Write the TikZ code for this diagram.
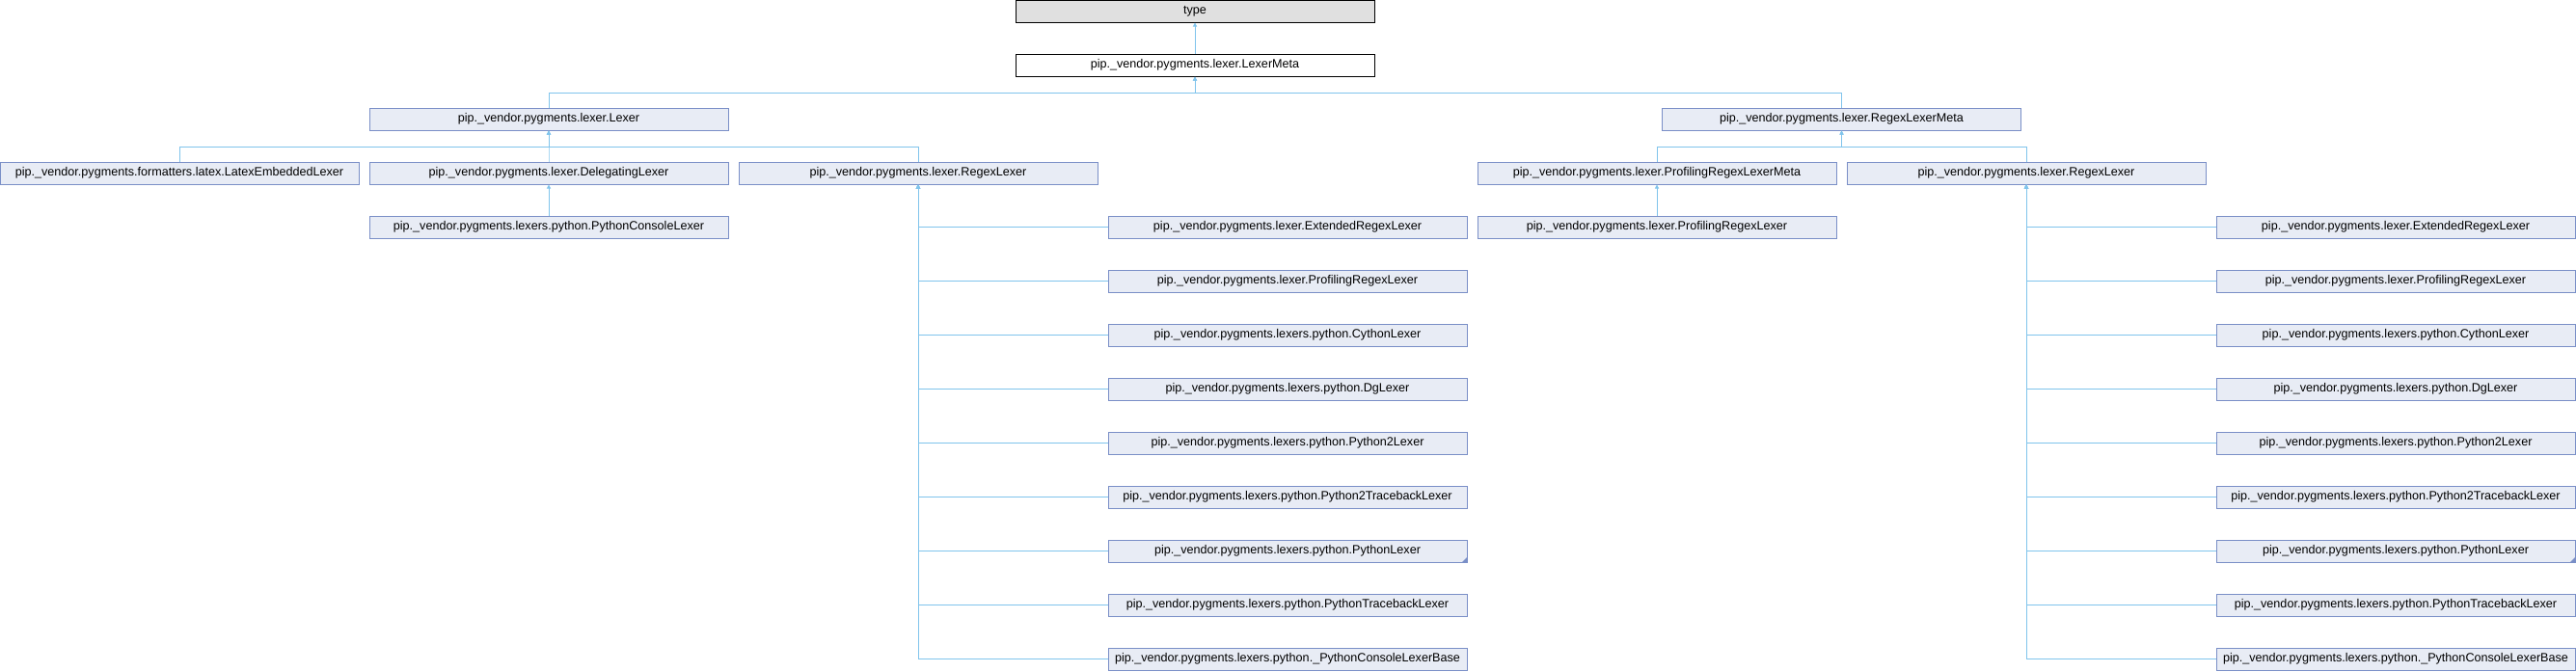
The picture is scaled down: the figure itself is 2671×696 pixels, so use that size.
\documentclass[tikz,border=0pt]{standalone}
\usepackage{fontspec}
\setmainfont{Liberation Sans}
\usetikzlibrary{arrows.meta}
\definecolor{boxfill}{RGB}{232,236,245}
\definecolor{boxline}{RGB}{122,143,199}
\definecolor{edgeblue}{RGB}{128,196,236}
\definecolor{sysfill}{RGB}{224,224,224}
\def\pv{pip.\_vendor.pygments}
\begin{document}
\begin{tikzpicture}[x=1pt,y=-1pt,
  cls/.style={draw=boxline,fill=boxfill,line width=1pt,minimum width=372pt,
    minimum height=23pt,inner sep=0pt,font=\fontsize{12.6}{14}\selectfont},
  sysbox/.style={cls,draw=black,fill=sysfill},
  curbox/.style={cls,draw=black,fill=white},
  edge/.style={draw=edgeblue,line width=1pt,-{Triangle[length=4pt,width=4pt]}}]
  \useasboundingbox (0,0) rectangle (2671,696);
  \def\rowgap{56}
  % upper part
  \node[sysbox] (type) at (1239,11.5) {type};
  \node[curbox] (lexermeta) at (1239,67.5) {\pv.lexer.LexerMeta};
  \node[cls] (lexer) at (569,123.5) {\pv.lexer.Lexer};
  \node[cls] (regexmeta) at (1909.5,123.5) {\pv.lexer.RegexLexerMeta};
  \node[cls] (latex) at (186,179.5) {\pv.formatters.latex.LatexEmbeddedLexer};
  \node[cls] (delegating) at (569,179.5) {\pv.lexer.DelegatingLexer};
  \node[cls] (regexA) at (952,179.5) {\pv.lexer.RegexLexer};
  \node[cls] (profmeta) at (1718,179.5) {\pv.lexer.ProfilingRegexLexerMeta};
  \node[cls] (regexB) at (2101,179.5) {\pv.lexer.RegexLexer};
  \node[cls] (console) at (569,235.5) {\pv.lexers.python.PythonConsoleLexer};
  \node[cls] (profB) at (1718,235.5) {\pv.lexer.ProfilingRegexLexer};
  % subclasses of both RegexLexer boxes
  \foreach \t [count=\i from 0] in {lexer.ExtendedRegexLexer, lexer.ProfilingRegexLexer,
      lexers.python.CythonLexer, lexers.python.DgLexer, lexers.python.Python2Lexer,
      lexers.python.Python2TracebackLexer, lexers.python.PythonLexer,
      lexers.python.PythonTracebackLexer, lexers.python.\_PythonConsoleLexerBase} {
      \node[cls] (a\i) at (1335,235.5+\rowgap*\i) {\pv.\t};
      \node[cls] (b\i) at (2484,235.5+\rowgap*\i) {\pv.\t};
  }
  \fill[boxline] (a6.south east) -- ++(-6,0) -- ++(6,-6) -- cycle;
  \fill[boxline] (b6.south east) -- ++(-6,0) -- ++(6,-6) -- cycle;
  % connectors
  \coordinate (barA) at (1239,96);
  \coordinate (barB) at (569,152);
  \coordinate (barC) at (1909.5,152);
  \draw[edge] (lexermeta.north) -- (type.south);
  \draw[edge] (lexer.north) |- (barA) -- (lexermeta.south);
  \draw[edge] (regexmeta.north) |- (barA) -- (lexermeta.south);
  \foreach \c in {latex, delegating, regexA} {
      \draw[edge] (\c.north) |- (barB) -- (lexer.south);
  }
  \foreach \c in {profmeta, regexB} {
      \draw[edge] (\c.north) |- (barC) -- (regexmeta.south);
  }
  \draw[edge] (console.north) -- (delegating.south);
  \draw[edge] (profB.north) -- (profmeta.south);
  \foreach \i in {0,...,8} {
      \draw[edge] (a\i.west) -| (regexA.south);
      \draw[edge] (b\i.west) -| (regexB.south);
  }
\end{tikzpicture}
\end{document}
